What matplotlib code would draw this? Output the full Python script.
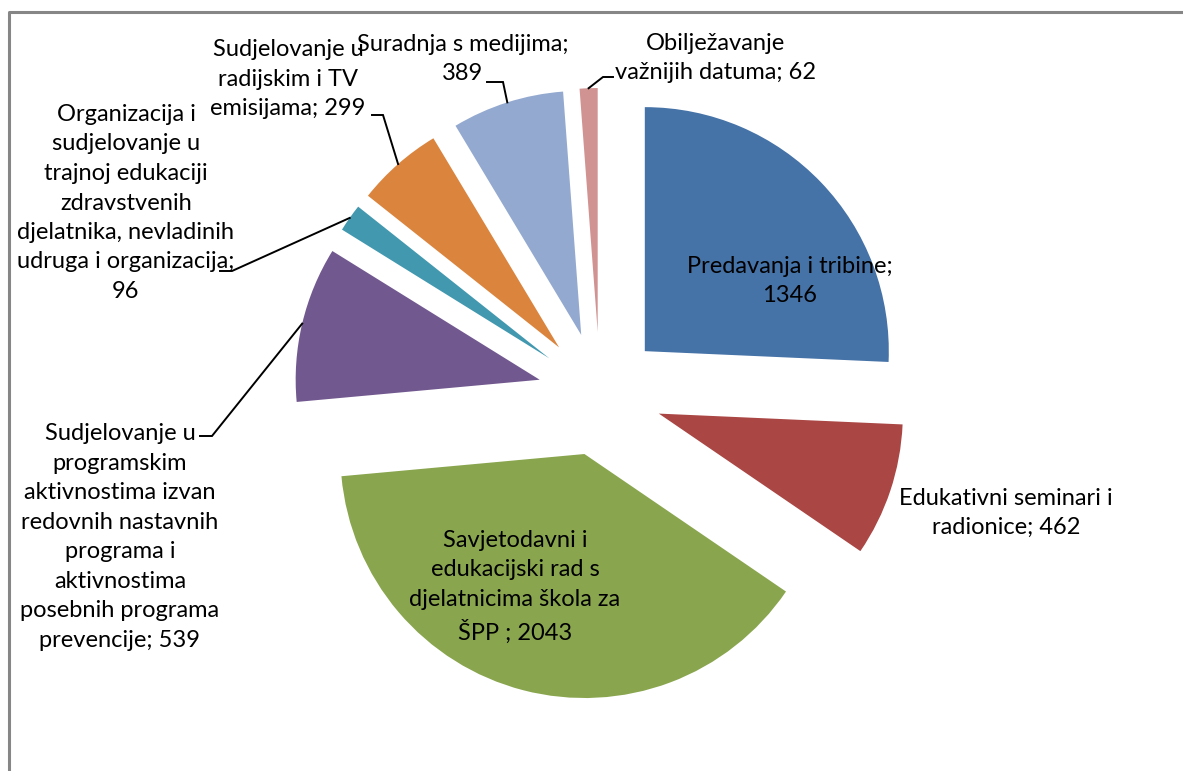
import numpy as np
import matplotlib
matplotlib.use("Agg")
import matplotlib.pyplot as plt
from matplotlib.lines import Line2D

plt.rcParams['font.family'] = ['Lato', 'DejaVu Sans']

# activity counts, drawn clockwise from 12 o'clock
labels = [
    "Predavanja i tribine;\n1346",
    "Edukativni seminari i\nradionice; 462",
    "Savjetodavni i\nedukacijski rad s\ndjelatnicima škola za\nŠPP ; 2043",
    "Sudjelovanje u\nprogramskim\naktivnostima izvan\nredovnih nastavnih\nprograma i\naktivnostima\nposebnih programa\nprevencije; 539",
    "Organizacija i\nsudjelovanje u\ntrajnoj edukaciji\nzdravstvenih\ndjelatnika, nevladinih\nudruga i organizacija;\n96",
    "Sudjelovanje u\nradijskim i TV\nemisijama; 299",
    "Suradnja s medijima;\n389",
    "Obilježavanje\nvažnijih datuma; 62",
]
values = [1346, 462, 2043, 539, 96, 299, 389, 62]
colors = ["#4572A7", "#AA4643", "#89A54E", "#71588F",
          "#4198AF", "#DB843D", "#93A9CF", "#D19392"]

# label centres (pixels, y down)
label_pos = [(790, 281), (1006, 513), (515, 587), (120, 537),
             (126, 203), (288, 79), (463, 59), (716, 58)]
# elbow of the leader line for the outside labels: (text end, bend)
leaders = {
    3: [(200, 436), (212, 436)],
    4: [(220, 271), (232, 271)],
    5: [(372, 115), (383, 115)],
    6: [(487, 82), (503, 82)],
    7: [(613, 77), (603, 77)],
}

W, H = 1183, 771
fig = plt.figure(figsize=(W / 100, H / 100), dpi=100)
ax = fig.add_axes([0, 0, 1, 1])

cx, cy, r, gap = 600, 394, 244, 62
# y axis runs downwards, so counterclock here turns clockwise on screen
wedges, _ = ax.pie(values, colors=colors, startangle=-90, counterclock=True,
                   center=(cx, cy), radius=r, explode=[gap] * len(values),
                   wedgeprops=dict(linewidth=0))
ax.set_xlim(0, W)
ax.set_ylim(H, 0)
ax.set_aspect('auto')
ax.axis('off')

for i, (lab, (x, y)) in enumerate(zip(labels, label_pos)):
    ax.text(x, y, lab, ha='center', va='center', multialignment='center',
            fontsize=17, linespacing=1.5, color='black')

for i, pts in leaders.items():
    w = wedges[i]
    mid = np.deg2rad((w.theta1 + w.theta2) / 2)
    ax_ = w.center[0] + w.r * np.cos(mid)
    ay_ = w.center[1] + w.r * np.sin(mid)
    xs = [p[0] for p in pts] + [ax_]
    ys = [p[1] for p in pts] + [ay_]
    ax.plot(xs, ys, color='black', lw=1.4, solid_joinstyle='miter')

# chart area border, cut by the page on the right and bottom
fig.add_artist(Line2D([8.5 / W, 8.5 / W, 1], [0, 1 - 12 / H, 1 - 12 / H],
                      color='#868686', lw=2.2))

fig.savefig("out.png", dpi=100)
